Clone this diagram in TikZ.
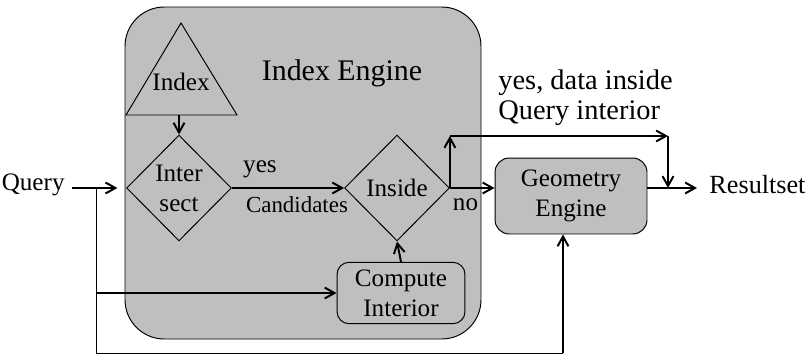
\documentclass[tikz,border=0pt]{standalone}
\usepackage{fontspec}
\setmainfont{Liberation Serif}
\usetikzlibrary{shapes.geometric,arrows.meta}

\begin{document}
\begin{tikzpicture}[x=0.458pt, y=-0.458pt,
    font=\fontsize{11.5}{13.7}\selectfont,
    arr/.style={line width=0.9pt, -{Straight Barb[length=4.5pt,width=5pt]}},
    wire/.style={line width=0.45pt},
    decision/.style={diamond, draw, line width=0.45pt, inner sep=-1pt, minimum width=48pt, minimum height=48.5pt, align=center},
    block/.style={rectangle, draw, line width=0.45pt, fill=gray!50, align=center}]
    \useasboundingbox (0,0) rectangle (809,355);

    % Index engine container
    \draw[line width=0.45pt, fill=gray!50, rounded corners=18pt] (125,7) rectangle (481,339);
    \node[font=\fontsize{13.7}{16}\selectfont] (title) at (342,73) {Index Engine};

    % Index triangle
    \draw[line width=0.45pt] (126,115) -- (181,23) -- (237,115) -- cycle;
    \node (index) at (181,82) {Index};
    \coordinate (idxb) at (179,115);

    % Vertices
    \node[decision] (inter) at (179,188) {Inter\\sect};
    \node[decision] (inside) at (397,188) {Inside};
    \node[block, rounded corners=5.5pt, minimum width=58.6pt, minimum height=28pt] (compute) at (401,293) {Compute\\Interior};
    \node[block, rounded corners=6.5pt, minimum width=69.6pt, minimum height=34.8pt] (geom) at (571,196) {Geometry\\Engine};
    \node[anchor=base east, inner sep=0pt] (query) at (65,190) {Query};
    \node[anchor=base west, inner sep=0pt, font=\fontsize{12}{14}\selectfont] (result) at (709,193) {Resultset};

    % Helper points
    \coordinate (qv) at (96,188);
    \coordinate (top) at (450,136);
    \coordinate (jn) at (668,188);
    \coordinate (out) at (697,188);
    \coordinate (bot) at (563,353);

    % Edges with labels
    \draw[arr] (idxb) -- (inter.north);
    \draw[arr, shorten >=4pt] (72,188) -- (inter.west);
    \draw[arr] (inter.east) -- (inside.west)
        node[pos=0.25, above, yshift=1pt] {yes}
        node[pos=0.58, below, font=\fontsize{10.5}{12}\selectfont] {Candidates};
    \draw[arr] (compute.north) -- (inside.south);
    \draw[arr] (inside.east) -- (inside.east -| geom.west)
        node[pos=0.35, below, yshift=-1pt] {no};
    \draw[arr] (inside.east) -- (inside.east |- top);
    \draw[arr] (inside.east |- top) -- (jn |- top);
    \draw[arr] (jn |- top) -- (jn);
    \draw[arr] (jn -| geom.east) -- (out);
    \node[anchor=west, align=left, inner sep=0pt, font=\fontsize{13}{13.7}\selectfont] (yesdata) at (498,98) {yes, data inside\\Query interior};

    % Query branches
    \draw[wire] (qv) |- (bot);
    \draw[arr] (bot) -- (bot |- geom.south);
    \draw[arr] (qv |- compute.west) -- (compute.west);
\end{tikzpicture}
\end{document}
